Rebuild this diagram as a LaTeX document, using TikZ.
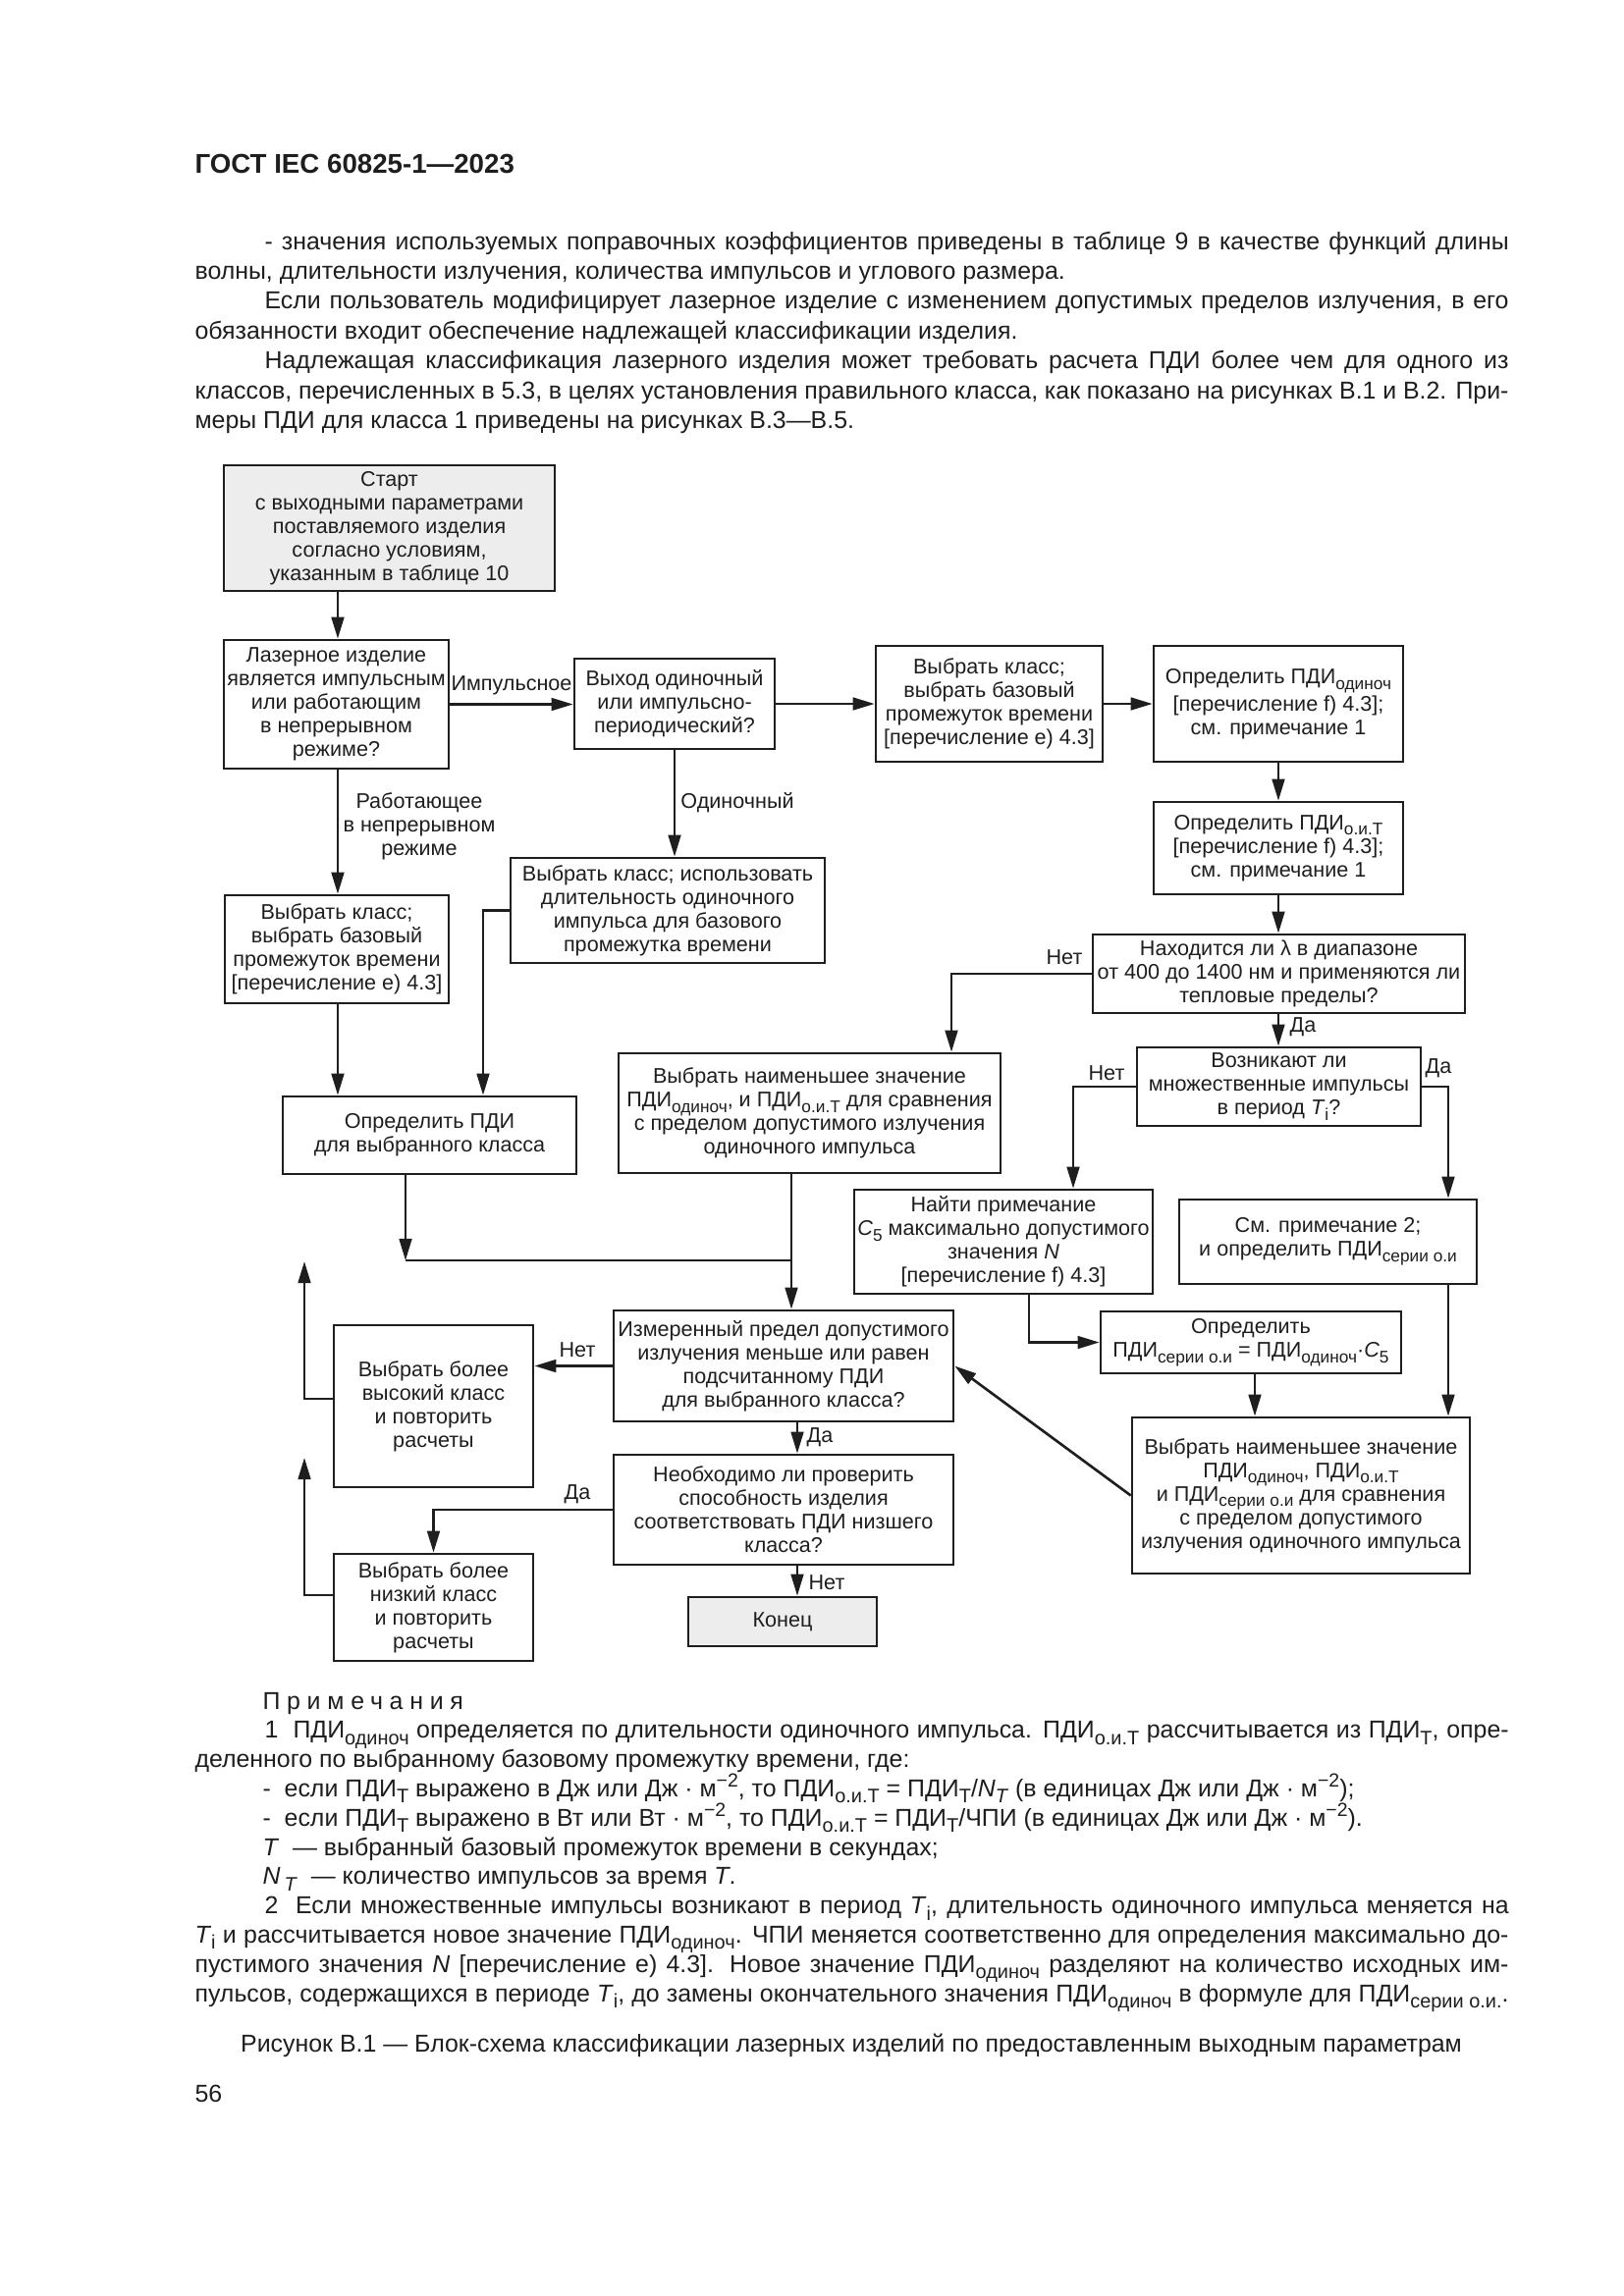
\documentclass[tikz,border=0pt]{standalone}
\usepackage{fontspec}
\setmainfont{Liberation Sans}
\usetikzlibrary{arrows.meta}
\definecolor{ink}{HTML}{1E1E1E}
\definecolor{greyfill}{HTML}{EDEDED}
\makeatletter
\newcommand\sbs[1]{\raisebox{-0.26em}{\fontsize{\strip@pt\dimexpr0.8\dimexpr\f@size pt\relax\relax}{7}\selectfont #1}}
\newcommand\sps[1]{\raisebox{0.38em}{\fontsize{\strip@pt\dimexpr0.78\dimexpr\f@size pt\relax\relax}{7}\selectfont #1}}
\makeatother
\newcommand\fcf{\fontsize{7.8}{8.7}\selectfont}
\newcommand\bodyf{\fontsize{9}{11}\selectfont}
\newcommand\mkbox[7][]{%
  \node[box,#1,minimum width={(#5-#3)*0.3613pt},minimum height={(#6-#4)*0.3613pt}] (#2) at ({(#3+#5)/2},{(#4+#6)/2}) {#7};}
\tikzset{
  box/.style={draw=ink,line width=0.95pt,inner sep=1pt,align=center,font=\fcf,text=ink},
  arr/.style={draw=ink,line width=0.95pt,-{Triangle[length=8pt,width=4.6pt]}},
  ln/.style={draw=ink,line width=0.95pt},
  lbl/.style={inner sep=0pt,font=\fcf,text=ink,align=center},
  txt/.style={anchor=base west,inner sep=0pt,text=ink,font=\bodyf}
}
\begin{document}
\begin{tikzpicture}[x=0.3613pt,y=-0.3613pt]
\fill[white] (0,0) rectangle (1654,2339);
\path[use as bounding box] (0,0) rectangle (1654,2339);

% header and body text
\node[txt,font=\fontsize{10}{12}\selectfont\bfseries] (hdr) at (198,176) {ГОСТ IEC 60825-1—2023};
\node[txt] (p1) at (269,254) {\makebox[457.8pt][s]{- значения используемых поправочных коэффициентов приведены в таблице 9 в качестве функций длины}};
\node[txt] (p2) at (198,284.4) {волны, длительности излучения, количества импульсов и углового размера.};
\node[txt] (p3) at (269,314.8) {\makebox[457.8pt][s]{Если пользователь модифицирует лазерное изделие с изменением допустимых пределов излучения, в его}};
\node[txt] (p4) at (198,345.2) {обязанности входит обеспечение надлежащей классификации изделия.};
\node[txt] (p5) at (269,375.6) {\makebox[457.8pt][s]{Надлежащая классификация лазерного изделия может требовать расчета ПДИ более чем для одного из}};
\node[txt] (p6) at (198,406) {\makebox[483.4pt][s]{классов, перечисленных в 5.3, в целях установления правильного класса, как показано на рисунках В.1 и В.2. При-}};
\node[txt] (p7) at (198,436.4) {меры ПДИ для класса 1 приведены на рисунках В.3—В.5.};

% boxes
\mkbox[fill=greyfill]{start}{228}{474}{565}{602}{Старт\\с выходными параметрами\\поставляемого изделия\\согласно условиям,\\указанным в таблице 10}
\mkbox{q1}{228}{652}{457}{783}{Лазерное изделие\\является импульсным\\или работающим\\в непрерывном\\режиме?}
\mkbox{q2}{585}{671}{789}{763}{Выход одиночный\\или импульсно-\\периодический?}
\mkbox{s1}{892}{658}{1123}{776}{Выбрать класс;\\выбрать базовый\\промежуток времени\\{[}перечисление e) 4.3{]}}
\mkbox{d1}{1175}{658}{1429}{776}{Определить ПДИ\sbs{одиноч}\\{[}перечисление f) 4.3{]};\\см. примечание 1}
\mkbox{d2}{1175}{817}{1429}{911}{Определить ПДИ\sbs{о.и.Т}\\{[}перечисление f) 4.3{]};\\см. примечание 1}
\mkbox{q3}{1113}{952}{1492}{1032}{Находится ли λ в диапазоне\\от 400 до 1400 нм и применяются ли\\тепловые пределы?}
\mkbox{q4}{1158}{1067}{1447}{1147}{Возникают ли\\множественные импульсы\\в период \textit{T}\sbs{i}?}
\mkbox{f1}{870}{1212}{1174}{1318}{Найти примечание\\\textit{C}\sbs{5} максимально допустимого\\значения \textit{N}\\{[}перечисление f) 4.3{]}}
\mkbox{f2}{1201}{1222}{1504}{1308}{См. примечание 2;\\и определить ПДИ\sbs{серии о.и}}
\mkbox{f3}{1121}{1336}{1427}{1399}{Определить\\ПДИ\sbs{серии о.и} = ПДИ\sbs{одиноч}·\textit{C}\sbs{5}}
\mkbox{m2}{1153}{1444}{1497}{1603}{Выбрать наименьшее значение\\ПДИ\sbs{одиноч}, ПДИ\sbs{о.и.Т}\\и ПДИ\sbs{серии о.и} для сравнения\\с пределом допустимого\\излучения одиночного импульса}
\mkbox{m1}{630}{1073}{1019}{1195}{Выбрать наименьшее значение\\ПДИ\sbs{одиноч}, и ПДИ\sbs{о.и.Т} для сравнения\\с пределом допустимого излучения\\одиночного импульса}
\mkbox{s2}{520}{874}{840}{981}{Выбрать класс; использовать\\длительность одиночного\\импульса для базового\\промежутка времени}
\mkbox{s3}{229}{912}{457}{1022}{Выбрать класс;\\выбрать базовый\\промежуток времени\\{[}перечисление e) 4.3{]}}
\mkbox{d3}{288}{1117}{587}{1196}{Определить ПДИ\\для выбранного класса}
\mkbox{q5}{625}{1335}{971}{1448}{Измеренный предел допустимого\\излучения меньше или равен\\подсчитанному ПДИ\\для выбранного класса?}
\mkbox{q6}{625}{1482}{971}{1594}{Необходимо ли проверить\\способность изделия\\соответствовать ПДИ низшего\\класса?}
\mkbox{hi}{340}{1350}{543}{1515}{Выбрать более\\высокий класс\\и повторить\\расчеты}
\mkbox{lo}{340}{1583}{543}{1692}{Выбрать более\\низкий класс\\и повторить\\расчеты}
\mkbox[fill=greyfill]{fin}{701}{1627}{893}{1677}{Конец}

% helper coordinates
\coordinate (vA) at (344,0);
\coordinate (vB) at (969,0);
\coordinate (vC) at (1093,0);
\coordinate (vD) at (1475,0);
\coordinate (vE) at (1048,0);
\coordinate (vF) at (1278,0);
\coordinate (vG) at (492,0);
\coordinate (vJ) at (806,0);
\coordinate (vK) at (812,0);
\coordinate (vL) at (687,0);
\coordinate (hA) at (0,1425);
\coordinate (hB) at (0,1625);
\coordinate (jl) at (413,1284);
\coordinate (jr) at (806,1284);
\coordinate (up1) at (310,1285);
\coordinate (up2) at (310,1485);

% connectors
\draw[arr] (start.south -| vA) -- (q1.north -| vA);
\draw[arr] (q1.east) -- (q2.west |- q1.east);
\draw[arr] (q2.east) -- (s1.west |- q2.east);
\draw[arr] (s1.east) -- (d1.west |- s1.east);
\draw[arr] (d1.south) -- (d2.north -| d1.south);
\draw[arr] (d2.south) -- (q3.north -| d2.south);
\draw[arr] (q3.west) -| (m1.north -| vB);
\draw[arr] (q3.south -| d2.south) -- (q4.north -| d2.south);
\draw[arr] (q4.west) -| (f1.north -| vC);
\draw[arr] (q4.east) -| (f2.north -| vD);
\draw[arr] (f1.south -| vE) |- (f3.west);
\draw[arr] (f3.south -| vF) -- (m2.north -| vF);
\draw[arr] (f2.south -| vD) -- (m2.north -| vD);
\draw[arr] (m2.west) -- (q5.east);
\draw[arr] (q2.south -| vL) -- (s2.north -| vL);
\draw[arr] (q1.south -| vA) -- (s3.north -| vA);
\draw[arr] (s3.south -| vA) -- (d3.north -| vA);
\draw[arr] (s2.west) -| (d3.north -| vG);
\draw[arr] (d3.south -| jl) -- (jl);
\draw[ln] (jl) -- (jr);
\draw[arr] (m1.south -| vJ) -- (q5.north -| vJ);
\draw[arr] (q5.west) -- (hi.east |- q5.west);
\draw[arr] (q5.south -| vK) -- (q6.north -| vK);
\draw[arr] (q6.west) -| (lo.north);
\draw[arr] (q6.south -| vK) -- (fin.north -| vK);
\draw[arr] (hi.west |- hA) -| (up1);
\draw[arr] (lo.west |- hB) -| (up2);

% connector labels
\node[lbl] (l1) at (521,698) {Импульсное};
\node[lbl] (l2) at (427,842) {Работающее\\в непрерывном\\режиме};
\node[lbl] (l3) at (751,818) {Одиночный};
\node[lbl] (l4) at (1084,975) {Нет};
\node[lbl] (l5) at (1327,1046) {Да};
\node[lbl] (l6) at (1127,1093) {Нет};
\node[lbl] (l7) at (1465,1088) {Да};
\node[lbl] (l8) at (588,1375) {Нет};
\node[lbl] (l9) at (835,1464) {Да};
\node[lbl] (l10) at (588,1522) {Да};
\node[lbl] (l11) at (842,1612) {Нет};

% notes
\node[txt] (n0) at (267,1741) {\addfontfeature{LetterSpace=27}Примечания};
\node[txt] (n1) at (269,1770.8) {\makebox[457.8pt][s]{1~~ПДИ\sbs{одиноч} определяется по длительности одиночного импульса. ПДИ\sbs{о.и.Т} рассчитывается из ПДИ\sbs{T}, опре-}};
\node[txt] (n2) at (198,1800.6) {деленного по выбранному базовому промежутку времени, где:};
\node[txt] (n3) at (267,1830.4) {-~~если ПДИ\sbs{T} выражено в Дж или Дж · м\sps{−2}, то ПДИ\sbs{о.и.Т} = ПДИ\sbs{T}/\textit{N}\sbs{\textit{T}} (в единицах Дж или Дж · м\sps{−2});};
\node[txt] (n4) at (267,1860.2) {-~~если ПДИ\sbs{T} выражено в Вт или Вт · м\sps{−2}, то ПДИ\sbs{о.и.Т} = ПДИ\sbs{T}/ЧПИ (в единицах Дж или Дж · м\sps{−2}).};
\node[txt] (n5) at (267,1890) {\textit{T}~~— выбранный базовый промежуток времени в секундах;};
\node[txt] (n6) at (267,1919.8) {\textit{N}\,\sbs{\textit{T}}~~— количество импульсов за время \textit{T}.};
\node[txt] (n7) at (269,1949.6) {\makebox[457.8pt][s]{2~~Если множественные импульсы возникают в период \textit{T}\sbs{i}, длительность одиночного импульса меняется на}};
\node[txt] (n8) at (198,1979.4) {\makebox[483.4pt][s]{\textit{T}\sbs{i} и рассчитывается новое значение ПДИ\sbs{одиноч}. ЧПИ меняется соответственно для определения максимально до-}};
\node[txt] (n9) at (198,2009.2) {\makebox[483.4pt][s]{пустимого значения \textit{N} {[}перечисление e) 4.3{]}. Новое значение ПДИ\sbs{одиноч} разделяют на количество исходных им-}};
\node[txt] (n10) at (198,2039) {\makebox[483.4pt][s]{пульсов, содержащихся в периоде \textit{T}\sbs{i}, до замены окончательного значения ПДИ\sbs{одиноч} в формуле для ПДИ\sbs{серии о.и.}.}};
\node[txt,anchor=base] (cap) at (867,2090) {Рисунок В.1 — Блок-схема классификации лазерных изделий по предоставленным выходным параметрам};
\node[txt] (pg) at (198,2141) {56};
\end{tikzpicture}
\end{document}
